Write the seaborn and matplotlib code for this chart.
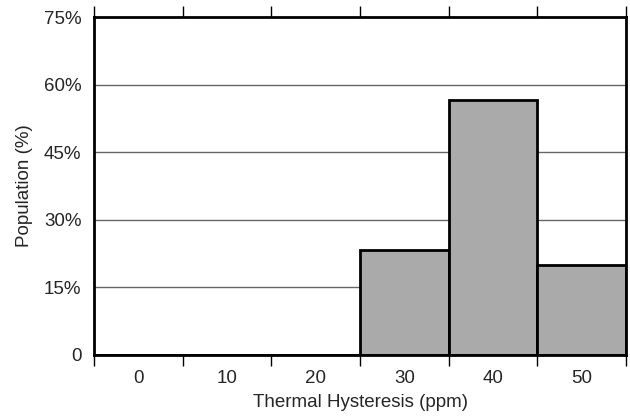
import matplotlib
matplotlib.use("Agg")
import matplotlib.pyplot as plt
import pandas as pd
import seaborn as sns
from matplotlib.ticker import FixedLocator

categories = ["0", "10", "20", "30", "40", "50"]
population = [0.0, 0.0, 0.0, 23.3, 56.7, 20.0]
y_ticks = [0, 15, 30, 45, 60, 75]
y_labels = ["0", "15%", "30%", "45%", "60%", "75%"]

sns.set_style("white")
plt.rcParams["font.family"] = ["Liberation Sans", "DejaVu Sans"]

df = pd.DataFrame({"Hysteresis": categories, "Population": population})

fig = plt.figure(figsize=(6.3, 4.19), dpi=100)
ax = fig.add_axes([0.149, 0.153, 0.845, 0.806])

for y in y_ticks[1:-1]:
    ax.axhline(y, color="#666666", linewidth=1, zorder=0)

sns.barplot(
    data=df,
    x="Hysteresis",
    y="Population",
    order=categories,
    color="#aaaaaa",
    saturation=1,
    width=1.0,
    edgecolor="black",
    linewidth=2,
    ax=ax,
    zorder=2,
)

ax.set_xlim(-0.5, len(categories) - 0.5)
ax.set_ylim(0, 75)
ax.set_yticks(y_ticks)
ax.set_yticklabels(y_labels)
ax.xaxis.set_minor_locator(FixedLocator([i - 0.5 for i in range(len(categories) + 1)]))

ax.tick_params(axis="x", which="major", length=0, pad=11, labelsize=13.5)
ax.tick_params(axis="x", which="minor", length=8, width=1, direction="out",
               top=True, bottom=True, color="black")
ax.tick_params(axis="y", length=0, pad=9, labelsize=13.5)

for side in ["left", "right", "top", "bottom"]:
    ax.spines[side].set_visible(True)
    ax.spines[side].set_linewidth(2)
    ax.spines[side].set_color("black")

ax.set_xlabel("Thermal Hysteresis (ppm)", fontsize=13.5, labelpad=5)
ax.set_ylabel("Population (%)", fontsize=13.5, labelpad=8)

fig.savefig("out.png", dpi=100)
